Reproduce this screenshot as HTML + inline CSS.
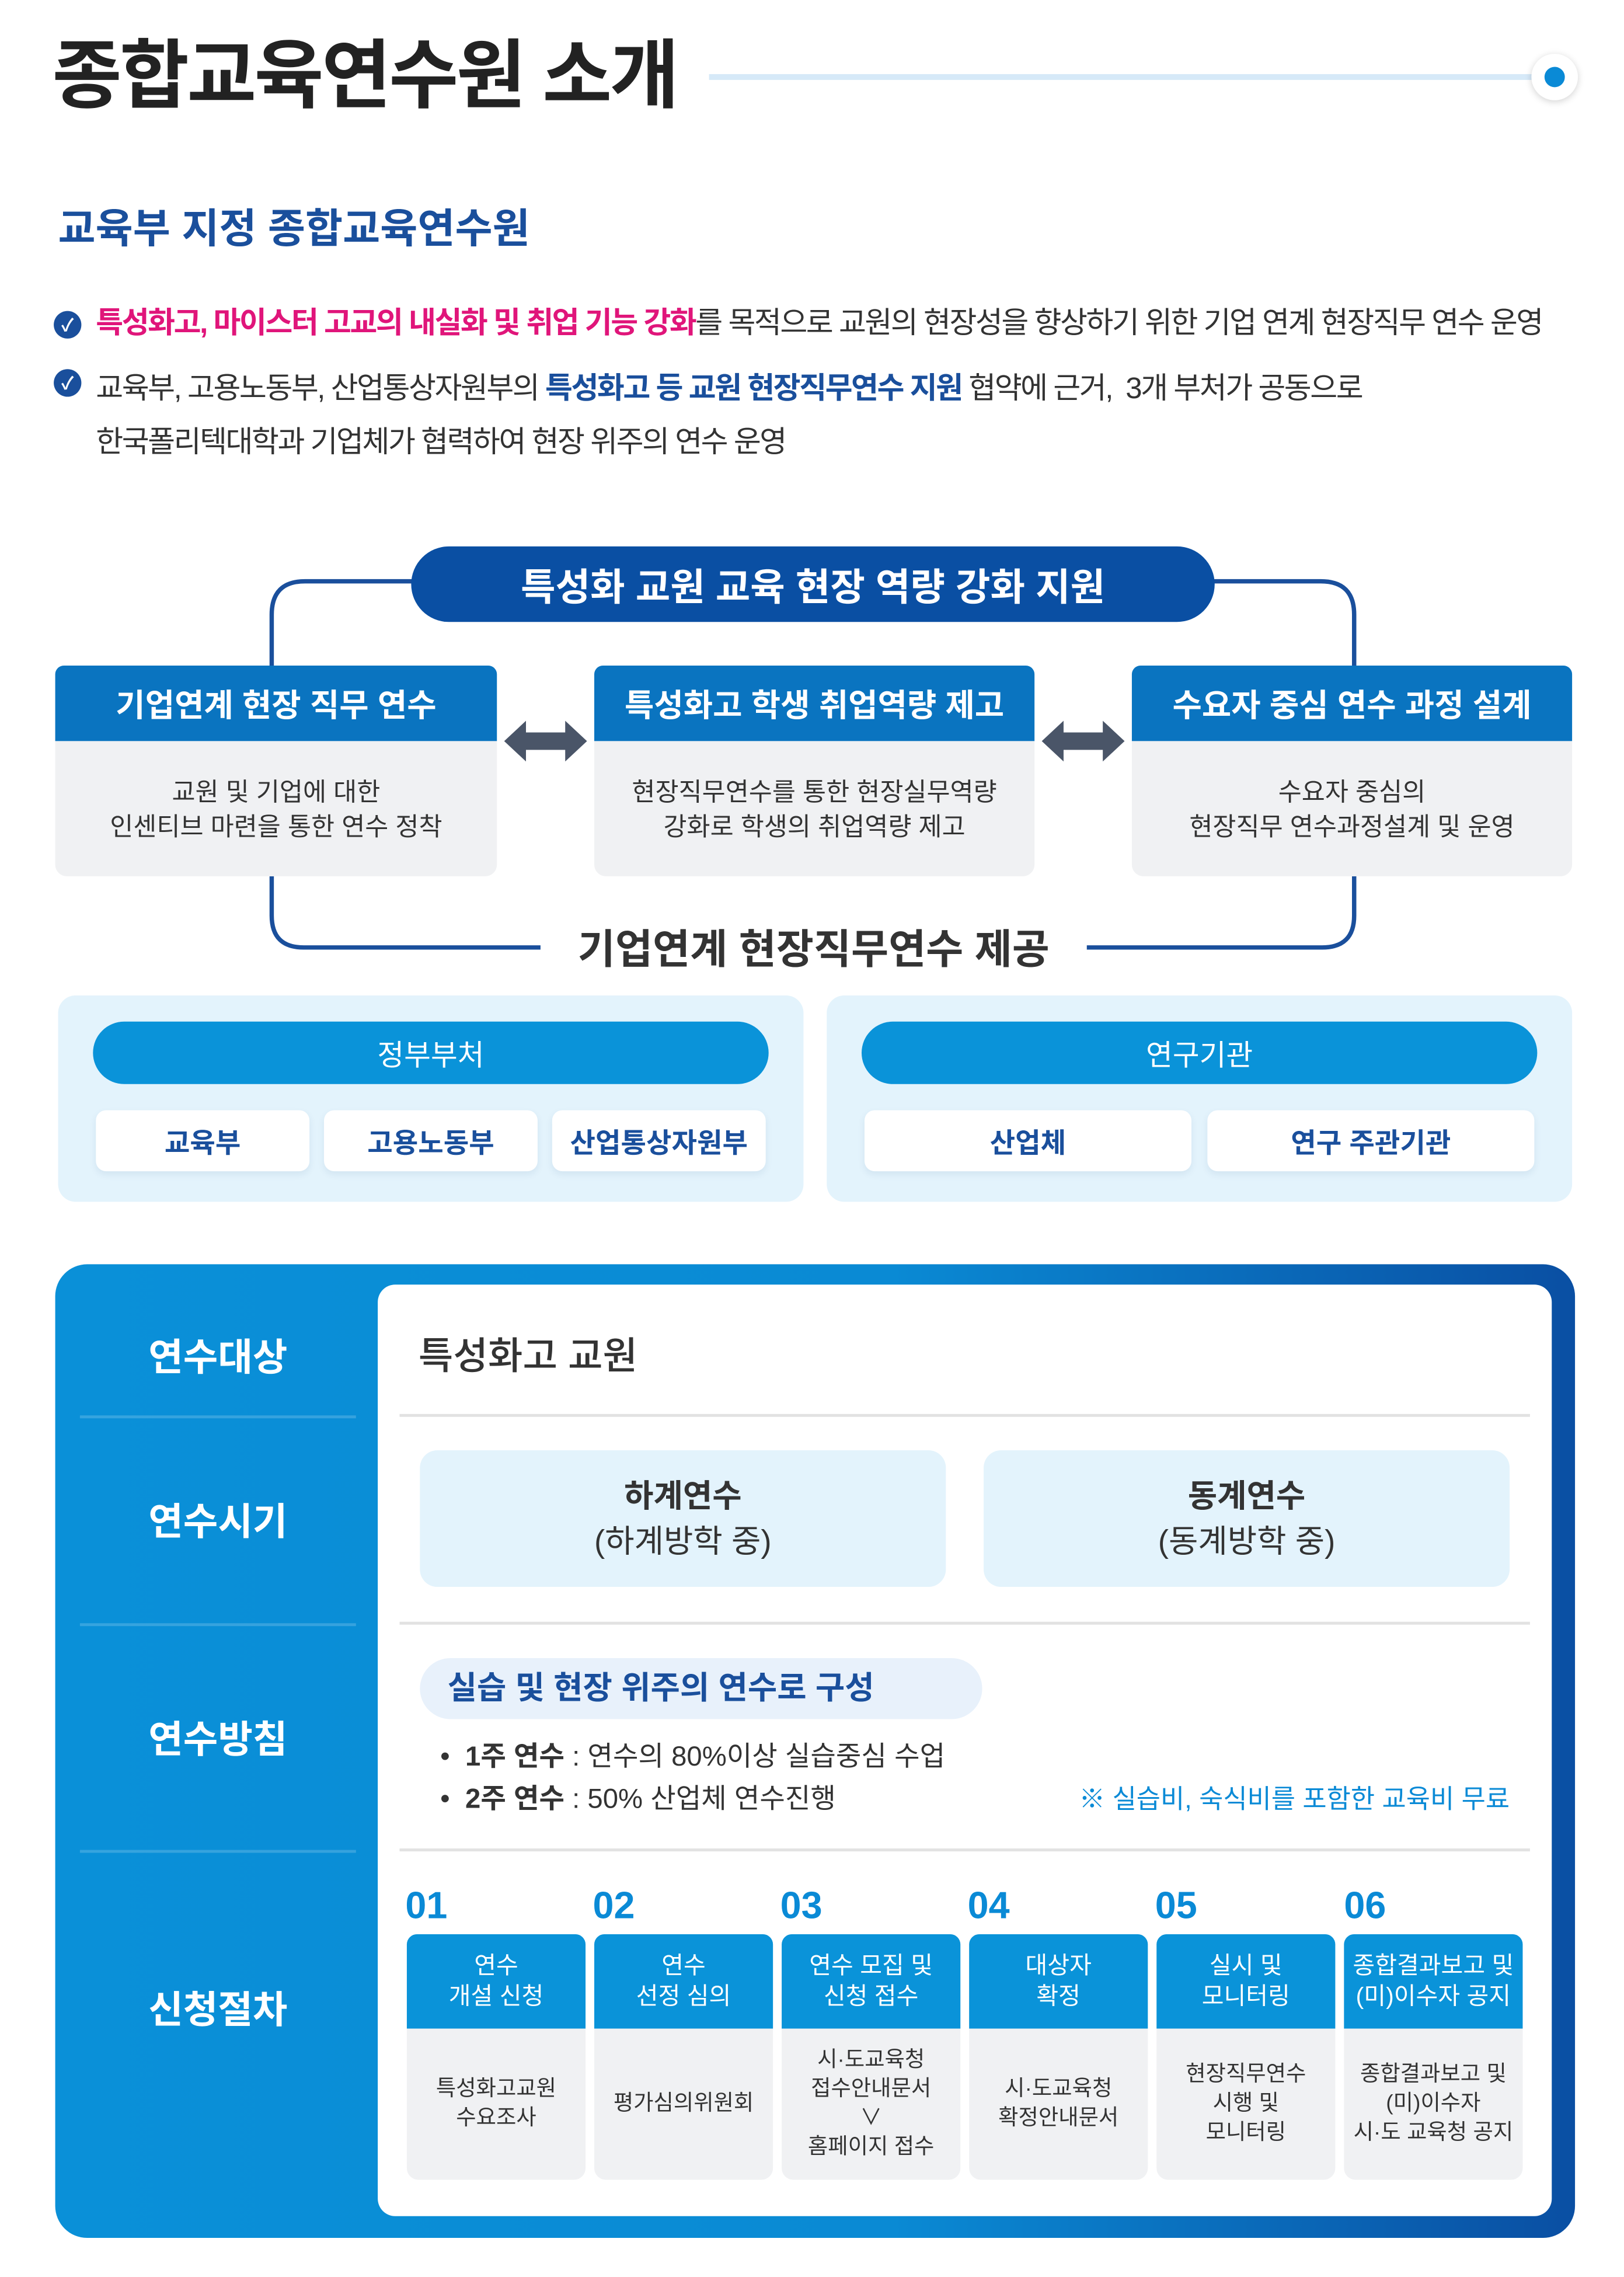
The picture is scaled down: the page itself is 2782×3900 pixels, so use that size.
<!DOCTYPE html>
<html><head><meta charset="utf-8"><style>
*{margin:0;padding:0;box-sizing:border-box}
html,body{width:2782px;height:3899px;background:#fff;overflow:hidden}
#w{position:absolute;left:0;top:0;width:1118px;height:1567px;transform:scale(2.489);transform-origin:0 0;font-family:"Liberation Sans","Noto Sans CJK KR",sans-serif;color:#333}
.a{position:absolute}
.c{display:flex;align-items:center;justify-content:center;text-align:center}
.hd{background:#0a74c0;color:#fff;font-weight:700;font-size:22px;border-radius:6px 6px 0 0}
.bd{background:#f0f1f3;font-size:17.5px;line-height:24px;color:#333;border-radius:0 0 8px 8px}
.wb{background:#fff;color:#1a4f9c;font-size:19px;font-weight:700;border-radius:7px;box-shadow:0 2px 5px rgba(0,60,120,.08)}
.lbl{color:#fff;font-weight:700;font-size:26px;width:190px;left:55px}
.dv{height:1.5px;background:rgba(255,255,255,.18);left:55px;width:190px}
.dr{height:2px;background:#e2e2e2;left:275px;width:778px}
.num{color:#0a8ad6;font-weight:700;font-size:26px;top:1296px}
.sh{background:#0a93d9;color:#fff;font-size:16.5px;line-height:21px;border-radius:7px 7px 0 0;height:65px;top:1331px;width:123px}
.sb{background:#f0f1f3;font-size:15px;line-height:20px;border-radius:0 0 8px 8px;top:1396px;height:104px;width:123px;color:#333}
</style></head><body><div id="w">
<div class="a" style="left:36px;top:20px;font-size:52px;font-weight:700;color:#222;letter-spacing:-1.5px;line-height:66px">종합교육연수원 소개</div>
<div class="a" style="left:488px;top:51px;width:580px;height:4px;background:#d6e9f8"></div>
<div class="a" style="left:1054px;top:37px;width:32px;height:32px;border-radius:50%;background:#fff;box-shadow:0 1px 5px rgba(0,0,0,.18)"></div>
<div class="a" style="left:1063px;top:46px;width:14px;height:14px;border-radius:50%;background:#0a8ad6"></div>
<div class="a" style="left:40px;top:140px;font-size:28px;font-weight:700;color:#1a4f9c;line-height:36px">교육부 지정 종합교육연수원</div>
<div class="a c" style="left:37px;top:214px;width:19px;height:19px;border-radius:50%;background:#1a4f9c;color:#fff;font-size:12px;font-weight:700">✓</div>
<div class="a c" style="left:37px;top:254px;width:19px;height:19px;border-radius:50%;background:#1a4f9c;color:#fff;font-size:12px;font-weight:700">✓</div>
<div class="a" style="left:66px;top:209px;font-size:20.5px;line-height:28px;letter-spacing:-1px;white-space:nowrap"><b style="color:#e0157a">특성화고, 마이스터 고교의 내실화 및 취업 기능 강화</b>를 목적으로 교원의 현장성을 향상하기 위한 기업 연계 현장직무 연수 운영</div>
<div class="a" style="left:66px;top:249px;font-size:20.5px;line-height:37px;letter-spacing:-1px;white-space:nowrap">교육부, 고용노동부, 산업통상자원부의 <b style="color:#1a4f9c">특성화고 등 교원 현장직무연수 지원</b> 협약에 근거,&nbsp; 3개 부처가 공동으로<br>한국폴리텍대학과 기업체가 협력하여 현장 위주의 연수 운영</div>

<svg class="a" style="left:0;top:0" width="1110" height="700">
<g fill="none" stroke="#1a4f9c" stroke-width="3">
<path d="M290 400 H210 Q187 400 187 423 V458"/>
<path d="M830 400 H909 Q932 400 932 423 V458"/>
<path d="M187 603 V630 Q187 652 209 652 H372"/>
<path d="M932 603 V630 Q932 652 910 652 H748"/>
</g>
<g fill="#4a5568">
<path d="M347 510 L362 496 V504 H389 V496 L404 510 L389 524 V516 H362 V524 Z"/>
<path d="M717 510 L732 496 V504 H759 V496 L774 510 L759 524 V516 H732 V524 Z"/>
</g>
</svg>
<div class="a c" style="left:283px;top:376px;width:553px;height:52px;border-radius:26px;background:#0a4fa3;color:#fff;font-size:26px;font-weight:700">특성화 교원 교육 현장 역량 강화 지원</div>
<div class="a c hd" style="left:38px;top:458px;width:304px;height:52px">기업연계 현장 직무 연수</div>
<div class="a c bd" style="left:38px;top:510px;width:304px;height:93px">교원 및 기업에 대한<br>인센티브 마련을 통한 연수 정착</div>
<div class="a c hd" style="left:409px;top:458px;width:303px;height:52px">특성화고 학생 취업역량 제고</div>
<div class="a c bd" style="left:409px;top:510px;width:303px;height:93px">현장직무연수를 통한 현장실무역량<br>강화로 학생의 취업역량 제고</div>
<div class="a c hd" style="left:779px;top:458px;width:303px;height:52px">수요자 중심 연수 과정 설계</div>
<div class="a c bd" style="left:779px;top:510px;width:303px;height:93px">수요자 중심의<br>현장직무 연수과정설계 및 운영</div>
<div class="a c" style="left:372px;top:632px;width:376px;height:40px;font-size:28px;font-weight:700;color:#333">기업연계 현장직무연수 제공</div>

<div class="a" style="left:40px;top:685px;width:513px;height:142px;border-radius:12px;background:#e3f3fc"></div>
<div class="a" style="left:569px;top:685px;width:513px;height:142px;border-radius:12px;background:#e3f3fc"></div>
<div class="a c" style="left:64px;top:703px;width:465px;height:43px;border-radius:22px;background:#0a93d9;color:#fff;font-size:20px">정부부처</div>
<div class="a c" style="left:593px;top:703px;width:465px;height:43px;border-radius:22px;background:#0a93d9;color:#fff;font-size:20px">연구기관</div>
<div class="a c wb" style="left:66px;top:764px;width:147px;height:42px">교육부</div>
<div class="a c wb" style="left:223px;top:764px;width:147px;height:42px">고용노동부</div>
<div class="a c wb" style="left:380px;top:764px;width:147px;height:42px">산업통상자원부</div>
<div class="a c wb" style="left:595px;top:764px;width:225px;height:42px">산업체</div>
<div class="a c wb" style="left:831px;top:764px;width:225px;height:42px">연구 주관기관</div>

<div class="a" style="left:38px;top:870px;width:1046px;height:670px;border-radius:22px;background:linear-gradient(90deg,#0a90d8 0%,#0a8ad4 55%,#0a4fa3 100%)"></div>
<div class="a" style="left:260px;top:884px;width:808px;height:641px;border-radius:12px;background:#fff"></div>
<div class="a c lbl" style="top:912px;height:40px">연수대상</div>
<div class="a c lbl" style="top:1025px;height:40px">연수시기</div>
<div class="a c lbl" style="top:1175px;height:40px">연수방침</div>
<div class="a c lbl" style="top:1361px;height:40px">신청절차</div>
<div class="a dv" style="top:974px"></div><div class="a dv" style="top:1117px"></div><div class="a dv" style="top:1273px"></div>
<div class="a dr" style="top:973px"></div><div class="a dr" style="top:1116px"></div><div class="a dr" style="top:1272px"></div>
<div class="a" style="left:288px;top:915px;font-size:26px;font-weight:500;color:#333;line-height:36px">특성화고 교원</div>
<div class="a c" style="left:289px;top:998px;width:362px;height:94px;border-radius:12px;background:#e3f3fc;font-size:22px;line-height:31px;color:#333"><div><b>하계연수</b><br>(하계방학 중)</div></div>
<div class="a c" style="left:677px;top:998px;width:362px;height:94px;border-radius:12px;background:#e3f3fc;font-size:22px;line-height:31px;color:#333"><div><b>동계연수</b><br>(동계방학 중)</div></div>
<div class="a" style="left:289px;top:1141px;width:387px;height:42px;border-radius:21px;background:#e8f1fb;color:#1a4f9c;font-size:22px;font-weight:700;line-height:42px;padding-left:19px">실습 및 현장 위주의 연수로 구성</div>
<div class="a" style="left:303px;top:1195px;font-size:19px;line-height:29px;color:#333;white-space:nowrap">•&nbsp; <b>1주 연수</b> : 연수의 80%이상 실습중심 수업<br>•&nbsp; <b>2주 연수</b> : 50% 산업체 연수진행</div>
<div class="a" style="right:79px;top:1226px;font-size:18px;color:#0a8ad6;line-height:24px;white-space:nowrap">※ 실습비, 숙식비를 포함한 교육비 무료</div>

<div class="a num" style="left:279px">01</div><div class="a num" style="left:408px">02</div><div class="a num" style="left:537px">03</div><div class="a num" style="left:666px">04</div><div class="a num" style="left:795px">05</div><div class="a num" style="left:925px">06</div>
<div class="a c sh" style="left:280px">연수<br>개설 신청</div>
<div class="a c sh" style="left:409px">연수<br>선정 심의</div>
<div class="a c sh" style="left:538px">연수 모집 및<br>신청 접수</div>
<div class="a c sh" style="left:667px">대상자<br>확정</div>
<div class="a c sh" style="left:796px">실시 및<br>모니터링</div>
<div class="a c sh" style="left:925px">종합결과보고 및<br>(미)이수자 공지</div>
<div class="a c sb" style="left:280px">특성화고교원<br>수요조사</div>
<div class="a c sb" style="left:409px">평가심의위원회</div>
<div class="a c sb" style="left:538px">시·도교육청<br>접수안내문서<br>∨<br>홈페이지 접수</div>
<div class="a c sb" style="left:667px">시·도교육청<br>확정안내문서</div>
<div class="a c sb" style="left:796px">현장직무연수<br>시행 및<br>모니터링</div>
<div class="a c sb" style="left:925px">종합결과보고 및<br>(미)이수자<br>시·도 교육청 공지</div>
</div></body></html>
